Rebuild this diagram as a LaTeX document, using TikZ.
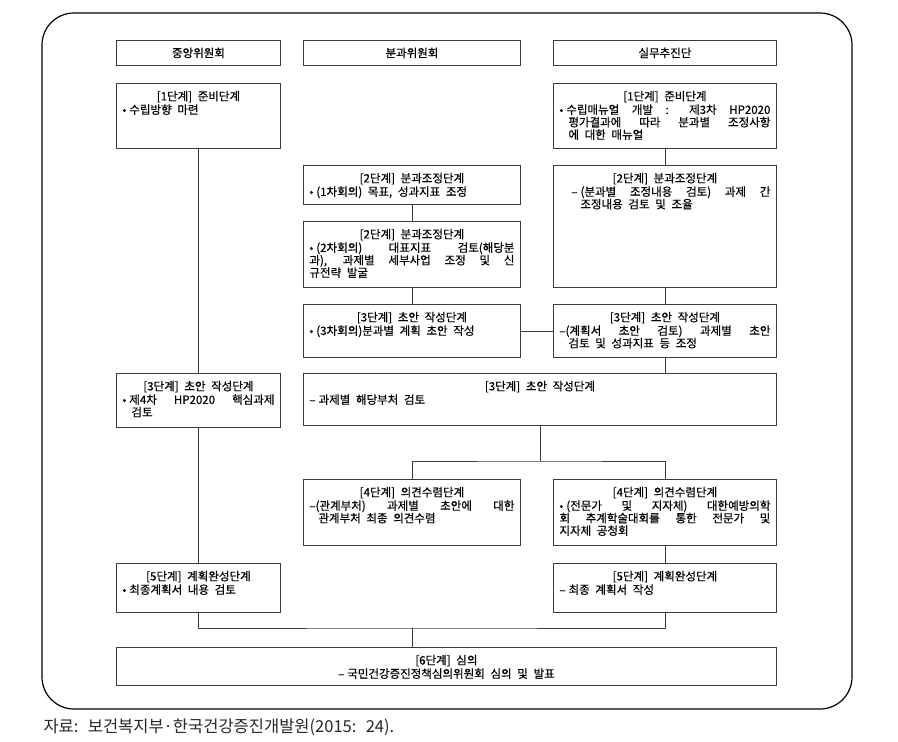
\documentclass[tikz,border=0pt]{standalone}
\usepackage{fontspec}
\setmainfont[WordSpace=2.2]{Noto Sans CJK KR}
\newfontfamily\boxfont[WordSpace=2.2, FakeBold=0.6]{Noto Sans CJK KR}
\usetikzlibrary{positioning}

\definecolor{boxgray}{HTML}{3C3C3C}

\tikzset{
  head/.style={draw=boxgray, line width=0.9pt, anchor=north west, inner sep=0pt,
    minimum height=25pt, font=\boxfont\fontsize{11.5}{12.5}\selectfont},
  stage/.style={draw=boxgray, line width=0.9pt, anchor=north west,
    inner xsep=6pt, inner ysep=0pt, font=\boxfont\fontsize{11.5}{12.5}\selectfont},
  link/.style={draw=boxgray, line width=0.9pt},
}

% width, height, title, body
\newcommand{\stagetext}[4]{\parbox[c][#2][t]{#1}{{\centering\rule{0pt}{17pt}#3\par}\vspace{1pt}#4}}
\newcommand{\hangtext}{\hangindent=9pt\hangafter=1\relax}
\newcommand{\bul}{•\hspace{3pt}}
\newcommand{\dsh}{–\hspace{3pt}}

\begin{document}
\begin{tikzpicture}[x=1pt, y=-1pt]
    \useasboundingbox (0,0) rectangle (898,742);
    \draw [line width=1.2pt, rounded corners=32pt] (42,13) rectangle (852,709);

    % column heads
    \node [head, minimum width=164pt] (hcentral) at (116,40) {중앙위원회};
    \node [head, minimum width=217pt] (hsub) at (303,40) {분과위원회};
    \node [head, minimum width=223pt] (hwork) at (553,40) {실무추진단};

    % central committee
    \node [stage] (l1) at (116,83) {\stagetext{152pt}{65pt}{[1단계] 준비단계}{\bul 수립방향 마련}};
    \node [stage] (l3) at (116,373) {\stagetext{152pt}{54pt}{[3단계] 초안 작성단계}{\hangtext \bul 제4차 HP2020 핵심과제\linebreak 검토}};
    \node [stage] (l5) at (116,563) {\stagetext{152pt}{49pt}{[5단계] 계획완성단계}{\bul 최종계획서 내용 검토}};

    % subcommittees
    \node [stage] (m2a) at (303,165) {\stagetext{205pt}{39pt}{[2단계] 분과조정단계}{\bul (1차회의) 목표, 성과지표 조정}};
    \node [stage] (m2b) at (303,221) {\stagetext{205pt}{66pt}{[2단계] 분과조정단계}{\bul (2차회의) 대표지표 검토(해당분\linebreak 과), 과제별 세부사업 조정 및 신\linebreak 규전략 발굴}};
    \node [stage] (m3) at (303,304) {\stagetext{205pt}{53pt}{[3단계] 초안 작성단계}{\bul (3차회의)분과별 계획 초안 작성}};
    \node [stage] (m4) at (303,479) {\stagetext{205pt}{66pt}{[4단계] 의견수렴단계}{\hangtext –(관계부처) 과제별 초안에 대한\linebreak 관계부처 최종 의견수렴}};

    % working group
    \node [stage] (r1) at (553,83) {\stagetext{211pt}{65pt}{[1단계] 준비단계}{\hangtext \bul 수립매뉴얼 개발 : 제3차 HP2020\linebreak 평가결과에 따라 분과별 조정사항\linebreak 에 대한 매뉴얼}};
    \node [stage] (r2) at (553,165) {\stagetext{211pt}{122pt}{[2단계] 분과조정단계}{\leftskip=12pt\hangtext \dsh (분과별 조정내용 검토) 과제 간\linebreak 조정내용 검토 및 조율}};
    \node [stage] (r3) at (553,304) {\stagetext{211pt}{53pt}{[3단계] 초안 작성단계}{\hangtext –(계획서 초안 검토) 과제별 초안\linebreak 검토 및 성과지표 등 조정}};
    \node [stage] (r4) at (553,479) {\stagetext{211pt}{66pt}{[4단계] 의견수렴단계}{\bul (전문가 및 지자체) 대한예방의학\linebreak 회 추계학술대회를 통한 전문가 및\linebreak 지자체 공청회}};
    \node [stage] (r5) at (553,563) {\stagetext{211pt}{49pt}{[5단계] 계획완성단계}{\dsh 최종 계획서 작성}};

    % shared steps
    \node [stage] (draft) at (303,373) {\stagetext{461pt}{52pt}{[3단계] 초안 작성단계}{\dsh 과제별 해당부처 검토}};
    \node [stage] (review) at (116,647) {\stagetext{648pt}{38pt}{[6단계] 심의}{\centering \dsh 국민건강증진정책심의위원회 심의 및 발표}};

    \node [anchor=west, font=\fontsize{16.5}{18}\selectfont, text=black!85] (source) at (40,727) {자료: 보건복지부·한국건강증진개발원(2015: 24).};

    % connectors
    \coordinate (fork) at (draft.south |- 0,461);
    \coordinate (join) at (m4.south |- 0,628);

    \draw [link] (l1) -- (l3);
    \draw [link] (l3) -- (l5);
    \draw [link] (r1) -- (r2);
    \draw [link] (r2) -- (r3);
    \draw [link] (m2a) -- (m2b);
    \draw [link] (m2b) -- (m3);
    \draw [link] (m3) -- (r3);
    \draw [link] (r3.south) -- (r3.south |- draft.north);
    \draw [link] (draft.south) -- (fork);
    \draw [link] (m4.north) |- (fork) -| (r4.north);
    \draw [link] (r4) -- (r5);
    \draw [link] (l5.south) |- (join) -| (r5.south);
    \draw [link] (join) -- (join |- review.north);

\end{tikzpicture}
\end{document}
